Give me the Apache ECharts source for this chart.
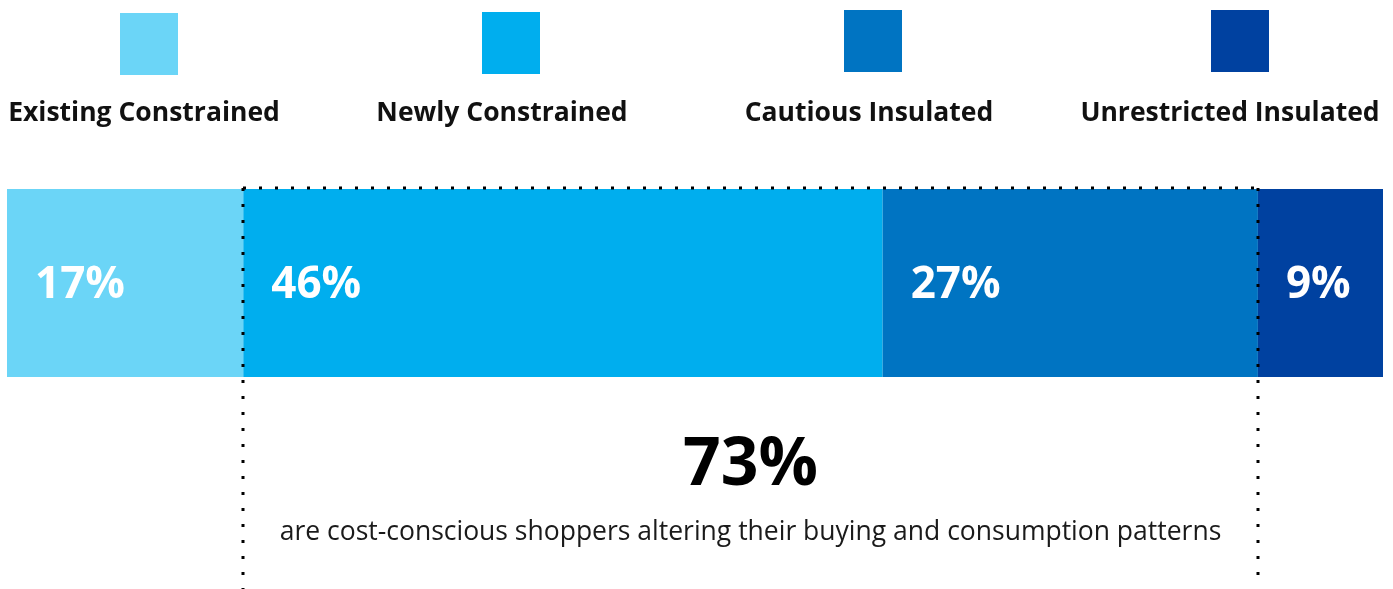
<!DOCTYPE html>
<html><head><meta charset="utf-8">
<script src="https://cdn.jsdelivr.net/npm/echarts@6/dist/echarts.min.js"></script>
<style>html,body{margin:0;padding:0;background:#fff}#c{width:1393px;height:589px}</style>
</head><body><div id="c"></div>
<script>
const categories = ['Shoppers'];
const segmentNames = ['Existing Constrained', 'Newly Constrained', 'Cautious Insulated', 'Unrestricted Insulated'];
const segmentValues = [17, 46, 27, 9];
const segmentColors = ['#6BD5F7', '#00AEEE', '#0074C2', '#0041A0'];
const highlightFrom = 1; // first highlighted segment index
const highlightTo = 2;   // last highlighted segment index
const subtitleText = 'are cost-conscious shoppers altering their buying and consumption patterns';

const FONT = '"Open Sans", "Noto Sans", sans-serif';
const total = segmentValues.reduce((a, b) => a + b, 0);

const chart = echarts.init(document.getElementById('c'), null, { renderer: 'canvas' });

// legend layout (icon above text)
const legendSquares = [
  { x: 120, y: 13 }, { x: 482, y: 12 }, { x: 844, y: 10 }, { x: 1211, y: 10 }
];
const legendTextCenters = [144, 502, 869, 1230];

const legendGraphics = [];
segmentNames.forEach((n, i) => {
  legendGraphics.push({
    type: 'rect', shape: { x: legendSquares[i].x, y: legendSquares[i].y, width: 58, height: 62 },
    style: { fill: segmentColors[i] }, silent: true
  });
  legendGraphics.push({
    type: 'text', x: legendTextCenters[i], y: 113,
    style: { text: n, font: 'bold 26.5px ' + FONT, fill: '#111', textAlign: 'center', textVerticalAlign: 'middle' },
    silent: true
  });
});

const series = segmentNames.map((n, i) => ({
  name: n, type: 'bar', stack: 'total', barWidth: '100%',
  data: [segmentValues[i]],
  itemStyle: { color: segmentColors[i] },
  label: {
    show: true, position: 'insideLeft', distance: 28, offset: [0, 2],
    formatter: '{c}%', color: '#fff', fontFamily: FONT, fontWeight: 'bold', fontSize: 44
  },
  emphasis: { disabled: true },
  animation: false
}));

chart.setOption({
  animation: false,
  grid: { left: 7, right: 10, top: 189, height: 188 },
  xAxis: { type: 'value', min: 0, max: total, show: false },
  yAxis: { type: 'category', data: categories, show: false },
  series: series,
  graphic: legendGraphics
});

// dotted bracket around highlighted segments
let cumStart = 0;
for (let i = 0; i < highlightFrom; i++) cumStart += segmentValues[i];
let cumEnd = cumStart;
let highlightSum = 0;
for (let i = highlightFrom; i <= highlightTo; i++) { cumEnd += segmentValues[i]; highlightSum += segmentValues[i]; }
const xL = Math.round(chart.convertToPixel({ xAxisIndex: 0 }, cumStart));
const xR = Math.round(chart.convertToPixel({ xAxisIndex: 0 }, cumEnd));
const dotStyle = { stroke: '#000', lineWidth: 3, lineDash: [3, 13], lineCap: 'butt' };
const yTop = 188;

chart.setOption({
  graphic: legendGraphics.concat([
    { type: 'line', shape: { x1: xL, y1: yTop, x2: xR, y2: yTop }, style: dotStyle, z: 10, silent: true },
    { type: 'line', shape: { x1: xL, y1: yTop, x2: xL, y2: 589 }, style: dotStyle, z: 10, silent: true },
    { type: 'line', shape: { x1: xR, y1: yTop, x2: xR, y2: 580 }, style: dotStyle, z: 10, silent: true },
    {
      type: 'text', x: (xL + xR) / 2, y: 466,
      style: { text: highlightSum + '%', font: 'bold 66px ' + FONT, fill: '#000', textAlign: 'center', textVerticalAlign: 'middle' },
      silent: true
    },
    {
      type: 'text', x: (xL + xR) / 2, y: 532,
      style: { text: subtitleText, font: '26.5px ' + FONT, fill: '#1a1a1a', textAlign: 'center', textVerticalAlign: 'middle' },
      silent: true
    }
  ])
});
</script>
</body></html>
